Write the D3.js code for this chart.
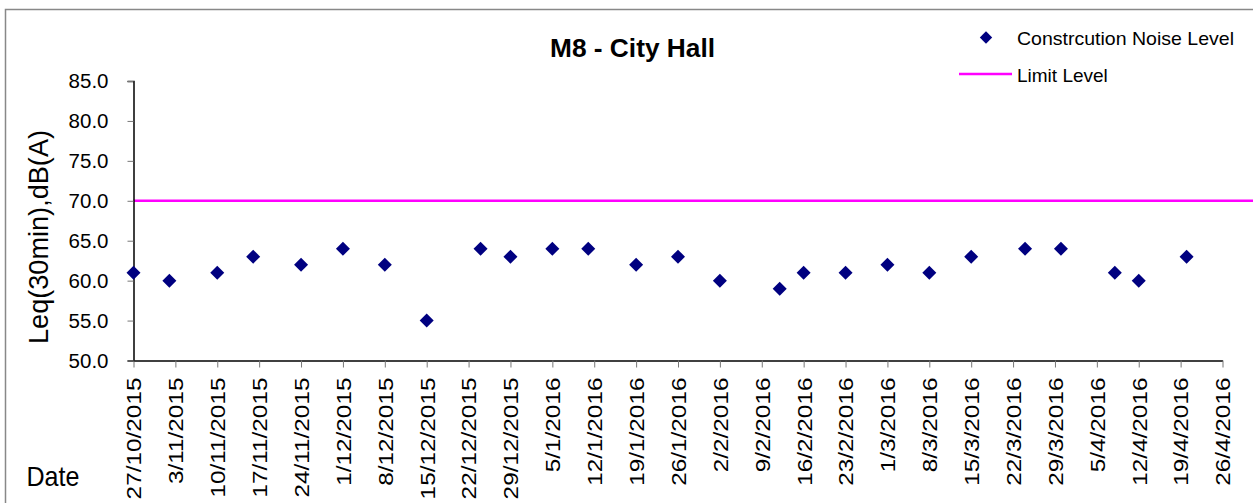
<!DOCTYPE html>
<html>
  <head>
    <script src="https://d3js.org/d3.v7.min.js"></script>
    <style>
      body { margin: 0; background: #fff; }
      text { font-family: "Liberation Sans", Arial, sans-serif; fill: #000; }
    </style>
  </head>
  <body>
    <svg width="1253" height="503"></svg>
  </body>
</html>
<script>

// measurement dates and Leq values
const dates = ['27/10/2015', '2/11/2015', '10/11/2015', '16/11/2015', '24/11/2015', '1/12/2015',
  '8/12/2015', '15/12/2015', '24/12/2015', '29/12/2015', '5/1/2016', '11/1/2016', '19/1/2016',
  '26/1/2016', '2/2/2016', '12/2/2016', '16/2/2016', '23/2/2016', '1/3/2016', '8/3/2016',
  '15/3/2016', '24/3/2016', '30/3/2016', '8/4/2016', '12/4/2016', '20/4/2016'];
const noise = [61, 60, 61, 63, 62, 64, 62, 55, 64, 63, 64, 64, 62, 63, 60, 59, 61, 61, 62, 61,
  63, 64, 64, 61, 60, 63];
const limit = 70;
const yTicks = [50, 55, 60, 65, 70, 75, 80, 85];
const xStart = '27/10/2015';
const xEnd = '26/4/2016';

const parse = d3.timeParse('%d/%m/%Y');
const fmt = d => `${d.getDate()}/${d.getMonth() + 1}/${d.getFullYear()}`;

const svg = d3.select('svg');

// outer frame (only top and left edges fall inside the picture)
svg.append('rect')
  .attr('x', 5.5).attr('y', 9.5)
  .attr('width', 1300).attr('height', 600)
  .attr('fill', 'none')
  .attr('stroke', '#888')
  .attr('stroke-width', 1.5);

const start = parse(xStart);
const x = d3.scaleTime()
  .domain([start, parse(xEnd)])
  .range([133.5, 1222.5]);
const y = d3.scaleLinear()
  .domain([50, 85])
  .range([360.5, 81]);

// weekly ticks from the first date
const nWeeks = Math.round(d3.timeDay.count(start, parse(xEnd)) / 7);
const xTicks = d3.range(0, nWeeks + 1).map(k => d3.timeDay.offset(start, k * 7));

// limit line
svg.append('line')
  .attr('x1', x(start)).attr('x2', 1253)
  .attr('y1', y(limit)).attr('y2', y(limit))
  .attr('stroke', '#ff00ff')
  .attr('stroke-width', 2.5);

// y axis
const yAxis = svg.append('g')
  .attr('transform', `translate(${x.range()[0]},0)`)
  .call(d3.axisLeft(y).tickValues(yTicks).tickSize(6).tickPadding(19).tickFormat(d3.format('.1f')));
yAxis.select('.domain').attr('stroke', '#000').attr('stroke-width', 1.5);
yAxis.selectAll('.tick line').attr('stroke', '#777');
yAxis.selectAll('.tick text').style('font-size', '20.5px');

// x axis
const xAxis = svg.append('g')
  .attr('transform', `translate(0,${y.range()[0]})`)
  .call(d3.axisBottom(x).tickValues(xTicks).tickSize(7).tickSizeOuter(0).tickFormat(fmt));
xAxis.select('.domain').attr('stroke', '#000').attr('stroke-width', 1.5);
xAxis.selectAll('.tick line').attr('stroke', '#777');
xAxis.selectAll('.tick text')
  .style('font-size', '21px')
  .attr('text-anchor', 'end')
  .attr('transform', 'rotate(-90)')
  .attr('x', -17)
  .attr('y', 0)
  .attr('dy', '0.35em')
  .each(function() {
    const len = this.getComputedTextLength();
    d3.select(this).attr('textLength', len * 1.16).attr('lengthAdjust', 'spacingAndGlyphs');
  });

// points
svg.append('g')
  .selectAll('path')
  .data(dates.map((d, i) => ({date: parse(d), v: noise[i]})))
  .join('path')
  .attr('d', d3.symbol(d3.symbolDiamond2, 125))
  .attr('transform', d => `translate(${x(d.date)},${y(d.v)})`)
  .attr('fill', '#000080');

// title and axis labels
svg.append('text')
  .attr('x', 632.5).attr('y', 57)
  .attr('text-anchor', 'middle')
  .attr('textLength', 165)
  .attr('lengthAdjust', 'spacingAndGlyphs')
  .style('font-size', '25px')
  .style('font-weight', 'bold')
  .text('M8 - City Hall');

svg.append('text')
  .attr('transform', 'translate(48,237) rotate(-90)')
  .attr('text-anchor', 'middle')
  .attr('textLength', 214)
  .attr('lengthAdjust', 'spacingAndGlyphs')
  .style('font-size', '27px')
  .text('Leq(30min),dB(A)');

svg.append('text')
  .attr('x', 26.5).attr('y', 486)
  .attr('textLength', 53)
  .attr('lengthAdjust', 'spacingAndGlyphs')
  .style('font-size', '28px')
  .text('Date');

// legend
const legend = svg.append('g');
legend.append('path')
  .attr('d', d3.symbol(d3.symbolDiamond2, 98))
  .attr('transform', 'translate(986,37.5)')
  .attr('fill', '#000080');
legend.append('text')
  .attr('x', 1017).attr('y', 45)
  .attr('textLength', 217)
  .attr('lengthAdjust', 'spacingAndGlyphs')
  .style('font-size', '19px')
  .text('Constrcution Noise Level');
legend.append('line')
  .attr('x1', 959).attr('x2', 1012)
  .attr('y1', 74).attr('y2', 74)
  .attr('stroke', '#ff00ff')
  .attr('stroke-width', 2.5);
legend.append('text')
  .attr('x', 1017).attr('y', 81.5)
  .style('font-size', '19px')
  .text('Limit Level');

</script>
